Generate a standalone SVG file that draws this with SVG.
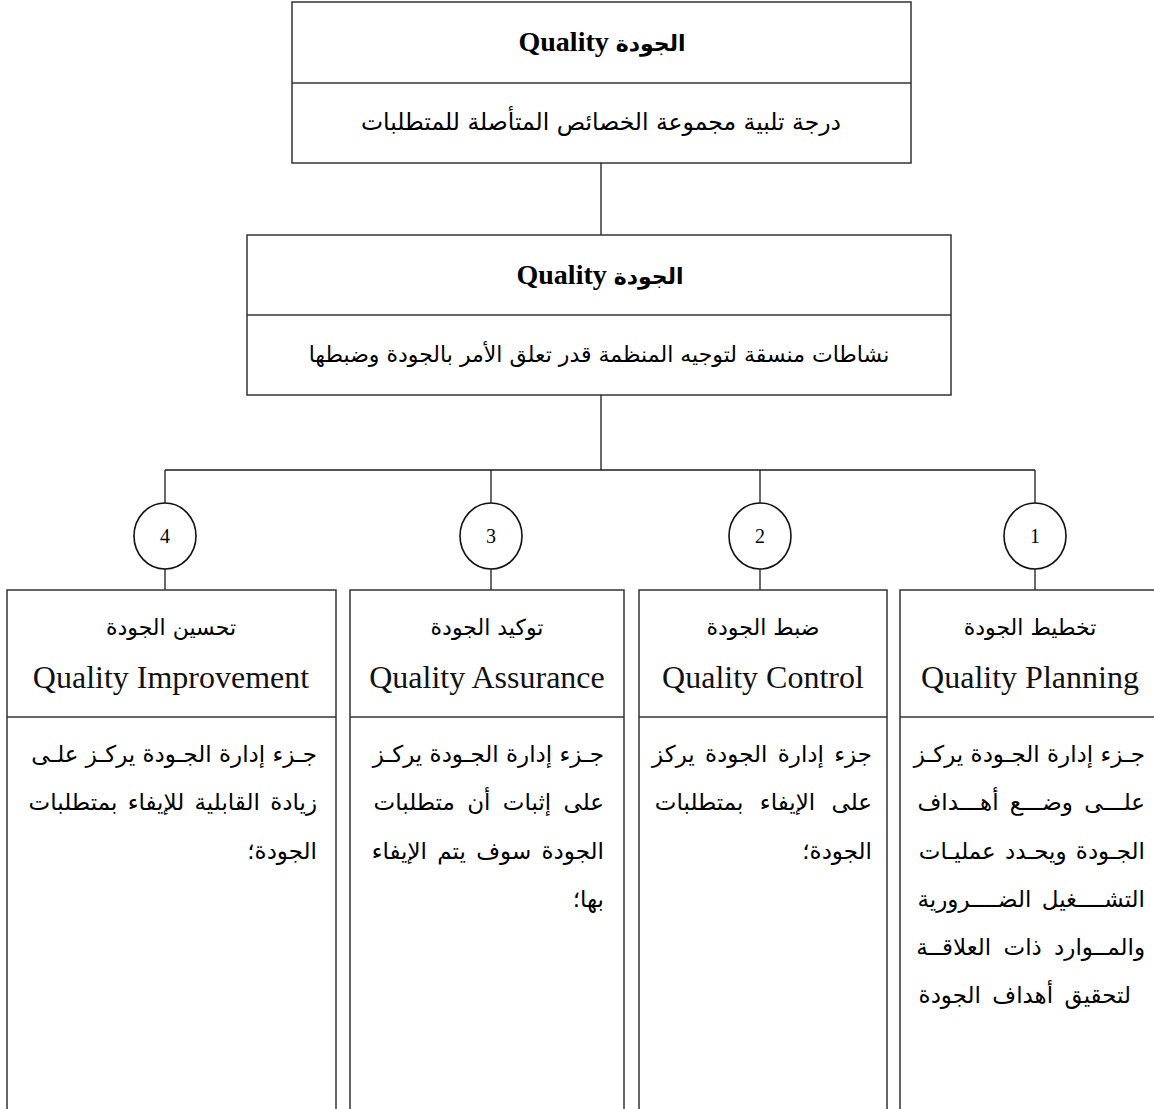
<svg xmlns="http://www.w3.org/2000/svg" width="1154" height="1109" viewBox="0 0 1154 1109">
  <style>
    .box{fill:#fff;stroke:#333;stroke-width:1.5}
    .rule{stroke:#333;stroke-width:1.5;fill:none}
    .open{fill:none;stroke:#333;stroke-width:1.5}
    .conn{stroke:#1a1a1a;stroke-width:1.3;fill:none}
    .ring{fill:#fff;stroke:#111;stroke-width:1.6}
    .ar{font-family:'DejaVu Sans',sans-serif;font-size:23px;fill:#000}
    .sub{font-size:23.5px}
    .sub2{font-size:22px}
    .head{font-size:22px}
    .en{font-family:'Liberation Serif',serif;font-size:32px;fill:#111}
    .ttl{font-family:'Liberation Serif','DejaVu Sans',serif;font-weight:bold;font-size:28px;fill:#000}
    .ttl-ar{font-family:'DejaVu Sans',sans-serif;font-size:22px}
    .num{font-family:'Liberation Serif',serif;font-size:20px;fill:#000}
    .c{text-anchor:middle}
    .r{text-anchor:end}
  </style>

  <!-- connectors -->
  <g id="connectors">
    <line class="conn" x1="601" y1="163" x2="601" y2="235"/>
    <line class="conn" x1="601" y1="395" x2="601" y2="470"/>
    <line class="conn" x1="165" y1="470" x2="1035" y2="470"/>
    <line class="conn" x1="165" y1="470" x2="165" y2="590"/>
    <line class="conn" x1="491" y1="470" x2="491" y2="590"/>
    <line class="conn" x1="760" y1="470" x2="760" y2="590"/>
    <line class="conn" x1="1035" y1="470" x2="1035" y2="590"/>
  </g>

  <!-- definition box -->
  <g id="quality-definition">
    <rect class="box" x="292" y="2" width="619" height="161"/>
    <line class="rule" x1="292" y1="83" x2="911" y2="83"/>
    <text class="ttl c" x="602" y="51">Quality <tspan class="ttl-ar">الجودة</tspan></text>
    <text class="ar sub c" x="601" y="130">درجة تلبية مجموعة الخصائص المتأصلة للمتطلبات</text>
  </g>

  <!-- management box -->
  <g id="quality-management">
    <rect class="box" x="247" y="235" width="704" height="160"/>
    <line class="rule" x1="247" y1="315" x2="951" y2="315"/>
    <text class="ttl c" x="600" y="284">Quality <tspan class="ttl-ar">الجودة</tspan></text>
    <text class="ar sub2 c" x="599" y="362">نشاطات منسقة لتوجيه المنظمة قدر تعلق الأمر بالجودة وضبطها</text>
  </g>

  <!-- numbered markers -->
  <g id="marker-4">
    <ellipse class="ring" cx="165" cy="536" rx="31" ry="33"/>
    <text class="num c" x="165" y="543">4</text>
  </g>
  <g id="marker-3">
    <ellipse class="ring" cx="491" cy="536" rx="31" ry="33"/>
    <text class="num c" x="491" y="543">3</text>
  </g>
  <g id="marker-2">
    <ellipse class="ring" cx="760" cy="536" rx="31" ry="33"/>
    <text class="num c" x="760" y="543">2</text>
  </g>
  <g id="marker-1">
    <ellipse class="ring" cx="1035" cy="536" rx="31" ry="33"/>
    <text class="num c" x="1035" y="543">1</text>
  </g>

  <!-- quality improvement -->
  <g id="quality-improvement">
    <path class="open" d="M7 1110 V590 H336 V1110"/>
    <line class="rule" x1="7" y1="717" x2="336" y2="717"/>
    <text class="ar head c" x="171" y="635">تحسين الجودة</text>
    <text class="en c" x="171" y="688">Quality Improvement</text>
    <text class="ar r" x="317" y="762">جـزء إدارة الجـودة يركـز علـى</text>
    <text class="ar r" x="317" y="810" word-spacing="3">زيادة القابلية للإيفاء بمتطلبات</text>
    <text class="ar r" x="317" y="859">الجودة؛</text>
  </g>

  <!-- quality assurance -->
  <g id="quality-assurance">
    <path class="open" d="M350 1110 V590 H624 V1110"/>
    <line class="rule" x1="350" y1="717" x2="624" y2="717"/>
    <text class="ar head c" x="487" y="635">توكيد الجودة</text>
    <text class="en c" x="487" y="688">Quality Assurance</text>
    <text class="ar r" x="604" y="762">جـزء إدارة الجـودة يركـز</text>
    <text class="ar r" x="604" y="810" word-spacing="5">على إثبات أن متطلبات</text>
    <text class="ar r" x="604" y="859" word-spacing="3">الجودة سوف يتم الإيفاء</text>
    <text class="ar r" x="604" y="907">بها؛</text>
  </g>

  <!-- quality control -->
  <g id="quality-control">
    <path class="open" d="M639 1110 V590 H887 V1110"/>
    <line class="rule" x1="639" y1="717" x2="887" y2="717"/>
    <text class="ar head c" x="763" y="635">ضبط الجودة</text>
    <text class="en c" x="763" y="688">Quality Control</text>
    <text class="ar r" x="872" y="762" word-spacing="3">جزء إدارة الجودة يركز</text>
    <text class="ar r" x="872" y="810" word-spacing="9">على الإيفاء بمتطلبات</text>
    <text class="ar r" x="872" y="859">الجودة؛</text>
  </g>

  <!-- quality planning -->
  <g id="quality-planning">
    <path class="open" d="M900 1110 V590 H1160"/>
    <line class="rule" x1="900" y1="717" x2="1160" y2="717"/>
    <text class="ar head c" x="1030" y="635">تخطيط الجودة</text>
    <text class="en c" x="1030" y="688">Quality Planning</text>
    <text class="ar r" x="1145" y="762">جـزء إدارة الجـودة يركـز</text>
    <text class="ar r" x="1145" y="810" word-spacing="4">علـــى وضـــع أهـــداف</text>
    <text class="ar r" x="1145" y="859" word-spacing="2">الجـودة ويحـدد عمليـات</text>
    <text class="ar r" x="1145" y="907" word-spacing="3">التشــــغيل الضــــرورية</text>
    <text class="ar r" x="1145" y="955" word-spacing="5">والمــوارد ذات العلاقــة</text>
    <text class="ar r" x="1131" y="1003" word-spacing="4">لتحقيق أهداف الجودة</text>
  </g>
</svg>
